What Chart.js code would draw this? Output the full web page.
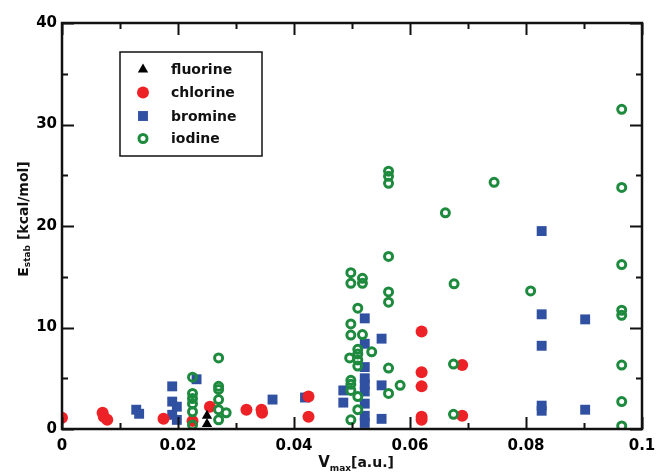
<!DOCTYPE html>
<html>
<head>
<meta charset="utf-8">
<script src="https://cdn.jsdelivr.net/npm/chart.js@4.4.1/dist/chart.umd.min.js"></script>
<style>
  html, body { margin: 0; padding: 0; background: #fff; }
  #wrap { width: 658px; height: 473px; }
</style>
</head>
<body>
<div id="wrap"><canvas id="chart" width="658" height="473"></canvas></div>
<script>
// Halogen bond stabilisation energy vs V_max

// Data
const fluorineX = [0.025, 0.025];
const fluorineY = [1.3, 0.5];

const chlorineX = [0.0, 0.007, 0.0072, 0.0078, 0.0175, 0.0225, 0.0255, 0.0318, 0.0344, 0.0345,
  0.0425, 0.0425, 0.062, 0.062, 0.062, 0.062, 0.062, 0.069, 0.069];
const chlorineY = [1.1, 1.6, 1.2, 0.9, 1.0, 0.8, 2.2, 1.9, 1.9, 1.6,
  3.2, 1.2, 9.6, 5.6, 4.2, 1.2, 0.9, 6.3, 1.3];

const bromineX = [0.0128, 0.0133, 0.019, 0.019, 0.019, 0.0198, 0.0198, 0.0232, 0.0363, 0.0419,
  0.0485, 0.0485, 0.0522, 0.0522, 0.0522, 0.0522, 0.0522, 0.0522, 0.0522, 0.0522, 0.0522,
  0.0551, 0.0551, 0.0551, 0.0827, 0.0827, 0.0827, 0.0827, 0.0827, 0.0902, 0.0902];
const bromineY = [1.9, 1.5, 4.2, 2.7, 1.4, 2.2, 0.9, 4.9, 2.9, 3.1,
  3.8, 2.6, 10.9, 8.4, 6.1, 5.0, 4.4, 3.7, 2.5, 1.3, 0.6,
  8.9, 4.3, 1.0, 19.5, 11.3, 8.2, 2.3, 1.8, 10.8, 1.9];

const iodineX = [0.0225, 0.0225, 0.0225, 0.0225, 0.0225, 0.0225,
  0.027, 0.027, 0.027, 0.027, 0.027, 0.027, 0.0283,
  0.0498, 0.0498, 0.0518, 0.0518, 0.051, 0.0498, 0.0498, 0.0518, 0.051, 0.051, 0.0496, 0.051, 0.051,
  0.0534, 0.0498, 0.0498, 0.0498, 0.051, 0.051, 0.0498,
  0.0563, 0.0563, 0.0563, 0.0563, 0.0563, 0.0563, 0.0563, 0.0583, 0.0563,
  0.0661, 0.0676, 0.0675, 0.0675, 0.0745, 0.0808,
  0.0965, 0.0965, 0.0965, 0.0965, 0.0965, 0.0965, 0.0965, 0.0965];
const iodineY = [5.1, 3.5, 3.0, 2.5, 1.7, 0.4,
  7.0, 4.2, 3.9, 2.9, 1.9, 0.9, 1.6,
  15.4, 14.35, 14.85, 14.35, 11.9, 10.35, 9.25, 9.3, 7.85, 7.4, 7.0, 6.8, 6.2,
  7.6, 4.8, 4.4, 3.8, 3.2, 1.9, 0.9,
  25.4, 24.9, 24.2, 17.0, 13.5, 12.5, 6.0, 4.3, 3.5,
  21.3, 14.3, 6.4, 1.45, 24.3, 13.6,
  31.5, 23.8, 16.2, 11.7, 11.2, 6.3, 2.7, 0.3];

const xTicks = [0, 0.02, 0.04, 0.06, 0.08, 0.1];
const yTicks = [0, 10, 20, 30, 40];

const FONT = '"DejaVu Sans", sans-serif';

const pairs = (xs, ys) => xs.map((x, i) => ({ x, y: ys[i] }));

// frame + inward tick marks on all four sides
const framePlugin = {
  id: 'frame',
  afterDatasetsDraw(chart) {
    const { ctx, chartArea: a, scales } = chart;
    const xs = scales.x, ys = scales.y;
    ctx.save();
    ctx.strokeStyle = '#111';
    ctx.lineWidth = 2;
    ctx.beginPath();
    for (let v = 0; v <= 0.1 + 1e-9; v += 0.01) {
      const px = Math.round(xs.getPixelForValue(v)) + 0.5;
      const major = Math.round(v * 100) % 2 === 0;
      const len = major ? 12 : 6;
      ctx.moveTo(px, a.bottom); ctx.lineTo(px, a.bottom - len);
      ctx.moveTo(px, a.top); ctx.lineTo(px, a.top + len);
    }
    for (let v = 0; v <= 40; v += 5) {
      const py = Math.round(ys.getPixelForValue(v)) + 0.5;
      const len = v % 10 === 0 ? 12 : 6;
      ctx.moveTo(a.left, py); ctx.lineTo(a.left + len, py);
      ctx.moveTo(a.right, py); ctx.lineTo(a.right - len, py);
    }
    ctx.stroke();
    ctx.lineWidth = 2.5;
    ctx.strokeRect(a.left, a.top, a.right - a.left, a.bottom - a.top);
    ctx.restore();
  }
};

// axis titles with subscripts
function drawSubText(ctx, parts, x, y) {
  let cx = x;
  parts.forEach(p => {
    ctx.font = `bold ${p.size}px ${FONT}`;
    ctx.fillText(p.text, cx, y + (p.dy || 0));
    cx += ctx.measureText(p.text).width;
  });
}
function measureSubText(ctx, parts) {
  return parts.reduce((w, p) => {
    ctx.font = `bold ${p.size}px ${FONT}`;
    return w + ctx.measureText(p.text).width;
  }, 0);
}

const titlePlugin = {
  id: 'titles',
  afterDraw(chart) {
    const { ctx, chartArea: a } = chart;
    ctx.save();
    ctx.fillStyle = '#111';
    ctx.textBaseline = 'alphabetic';
    ctx.textAlign = 'left';
    const xParts = [{ text: 'V', size: 15 }, { text: 'max', size: 9, dy: 4 }, { text: '[a.u.]', size: 14 }];
    const xw = measureSubText(ctx, xParts);
    drawSubText(ctx, xParts, (a.left + a.right) / 2 + 4 - xw / 2, 467);

    const yParts = [{ text: 'E', size: 14 }, { text: 'stab', size: 9, dy: 2 }, { text: ' [kcal/mol]', size: 14 }];
    const yw = measureSubText(ctx, yParts);
    ctx.translate(28, 219);
    ctx.rotate(-Math.PI / 2);
    drawSubText(ctx, yParts, -yw / 2, 0);
    ctx.restore();
  }
};

// boxed legend inside the plot
const legendPlugin = {
  id: 'boxLegend',
  afterDraw(chart) {
    const { ctx } = chart;
    const order = ['fluorine', 'chlorine', 'bromine', 'iodine'];
    const rowsY = [69.5, 92.5, 116, 138.5];
    ctx.save();
    ctx.fillStyle = '#fff';
    ctx.fillRect(120, 52, 142, 104);
    ctx.strokeStyle = '#111';
    ctx.lineWidth = 1.5;
    ctx.strokeRect(120, 52, 142, 104);
    order.forEach((name, i) => {
      const ds = chart.data.datasets.find(d => d.label === name);
      ctx.fillStyle = ds.backgroundColor;
      ctx.strokeStyle = ds.borderColor;
      ctx.lineWidth = ds.borderWidth;
      Chart.helpers.drawPoint(ctx, { pointStyle: ds.pointStyle, radius: ds.pointRadius, rotation: 0, borderWidth: ds.borderWidth }, 143, rowsY[i]);
      ctx.fillStyle = '#111';
      ctx.font = `bold 14px ${FONT}`;
      ctx.textBaseline = 'middle';
      ctx.fillText(name, 171, rowsY[i] + 1);
    });
    ctx.restore();
  }
};

new Chart(document.getElementById('chart'), {
  type: 'scatter',
  data: {
    datasets: [
      { label: 'iodine', data: pairs(iodineX, iodineY), order: 0,
        pointStyle: 'circle', pointRadius: 4, borderWidth: 3,
        backgroundColor: 'rgba(0,0,0,0)', borderColor: '#1d8a3e' },
      { label: 'fluorine', data: pairs(fluorineX, fluorineY), order: 1,
        pointStyle: 'triangle', pointRadius: 6, borderWidth: 0,
        backgroundColor: '#000', borderColor: '#000' },
      { label: 'chlorine', data: pairs(chlorineX, chlorineY), order: 2,
        pointStyle: 'circle', pointRadius: 6, borderWidth: 0,
        backgroundColor: '#ec2227', borderColor: '#ec2227' },
      { label: 'bromine', data: pairs(bromineX, bromineY), order: 3,
        pointStyle: 'rect', pointRadius: 7, borderWidth: 0,
        backgroundColor: '#3050a2', borderColor: '#3050a2' }
    ]
  },
  options: {
    responsive: false,
    animation: false,
    layout: { padding: { top: 23, right: 16, left: 0, bottom: 0 } },
    plugins: { legend: { display: false }, tooltip: { enabled: false } },
    elements: { point: { hoverRadius: 0 } },
    scales: {
      x: {
        type: 'linear', min: 0, max: 0.1,
        afterFit: s => { s.height = 44; s.paddingLeft = 0; s.paddingRight = 0; },
        afterBuildTicks: s => { s.ticks = xTicks.map(v => ({ value: v })); },
        grid: { display: false, drawTicks: false },
        border: { display: false },
        ticks: { padding: 8, color: '#000', maxRotation: 0,
          font: { family: FONT, size: 15, weight: 'bold' },
          callback: v => String(+v.toFixed(2)) }
      },
      y: {
        type: 'linear', min: 0, max: 40,
        afterFit: s => { s.width = 62; s.paddingTop = 0; s.paddingBottom = 0; },
        afterBuildTicks: s => { s.ticks = yTicks.map(v => ({ value: v })); },
        grid: { display: false, drawTicks: false },
        border: { display: false },
        ticks: { padding: 5, color: '#000',
          font: { family: FONT, size: 15, weight: 'bold' } }
      }
    }
  },
  plugins: [framePlugin, titlePlugin, legendPlugin]
});
</script>
</body>
</html>
